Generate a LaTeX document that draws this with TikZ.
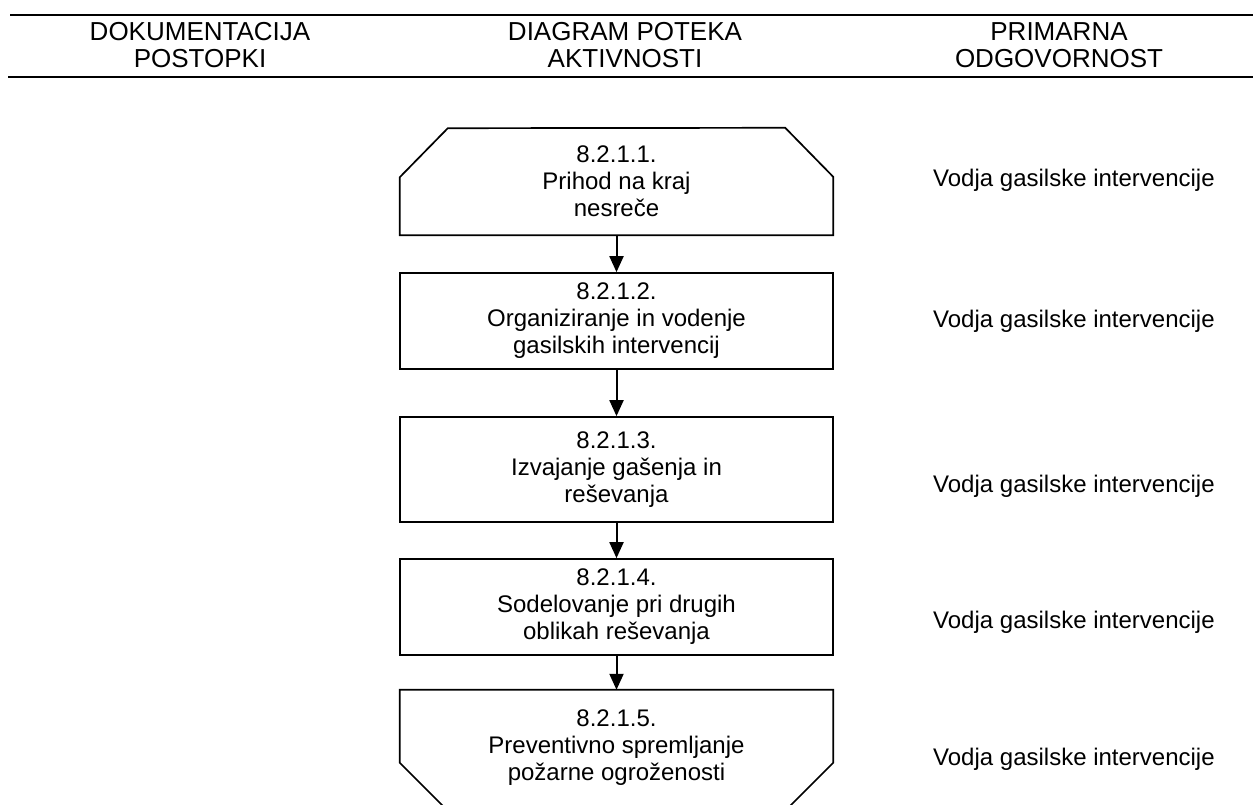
\documentclass[tikz,border=0pt]{standalone}
\usepackage{fontspec}
\setmainfont{Liberation Sans}
\usetikzlibrary{arrows.meta,calc}
\begin{document}
\begin{tikzpicture}[x=1pt,y=-1pt,
  boxtext/.style={font=\fontsize{24}{27}\selectfont, align=center, inner sep=0pt, minimum width=433pt},
  flowbox/.style={boxtext, draw, line width=1.7pt},
  ghostbox/.style={boxtext, draw=none},
  outline/.style={line width=1.7pt, line join=miter},
  head/.style={font=\fontsize{26}{27}\selectfont, align=center, inner sep=0pt},
  resp/.style={font=\fontsize{24}{27}\selectfont, anchor=base west, inner sep=0pt},
  flowarrow/.style={line width=2pt, -{Triangle[length=16pt,width=14pt]}},
  rulestyle/.style={line width=2.4pt}]
\useasboundingbox (0,0) rectangle (1253,805);
\clip (0,0) rectangle (1253,805);
% header
\draw[rulestyle] (10,15) -- (1253,15);
\draw[rulestyle] (8,77) -- (1253,77);
\node[head] (h1) at (200,45.2) {DOKUMENTACIJA\\POSTOPKI};
\node[head] (h2) at (625,45.2) {DIAGRAM POTEKA\\AKTIVNOSTI};
\node[head] (h3) at (1059,45.2) {PRIMARNA\\ODGOVORNOST};
% boxes
\node[ghostbox, minimum height=107pt] (b1) at (616.5,181.5) {8.2.1.1.\\Prihod na kraj\\nesreče};
\draw[outline] (b1.south west) -- ++(0,-58) -- ++(48,-49) -- ($(b1.north east)+(-48,0)$) -- ++(48,49) -- (b1.south east) -- cycle;
\node[flowbox, minimum height=96pt] (b2) at (616.5,321) {8.2.1.2.\\Organiziranje in vodenje\\gasilskih intervencij};
\node[flowbox, minimum height=105pt] (b3) at (616.5,469.5) {8.2.1.3.\\Izvajanje gašenja in\\reševanja};
\node[flowbox, minimum height=96pt] (b4) at (616.5,607) {8.2.1.4.\\Sodelovanje pri drugih\\oblikah reševanja};
\node[ghostbox, minimum height=115pt] (b5) at (616.5,747.5) {8.2.1.5.\\Preventivno spremljanje\\požarne ogroženosti};
\draw[outline] (b5.north west) -- (b5.north east) -- ++(0,73) -- ++(-48,48) -- ($(b5.north west)+(48,121)$) -- ++(-48,-48) -- cycle;
% connectors
\draw[flowarrow] (b1.south) -- (b2.north);
\draw[flowarrow] (b2.south) -- (b3.north);
\draw[flowarrow] (b3.south) -- (b4.north);
\draw[flowarrow] (b4.south) -- (b5.north);
% responsibilities
\node[resp] (r1) at (933,187) {Vodja gasilske intervencije};
\node[resp] (r2) at (933,327) {Vodja gasilske intervencije};
\node[resp] (r3) at (933,492) {Vodja gasilske intervencije};
\node[resp] (r4) at (933,628) {Vodja gasilske intervencije};
\node[resp] (r5) at (933,765) {Vodja gasilske intervencije};
\end{tikzpicture}
\end{document}
